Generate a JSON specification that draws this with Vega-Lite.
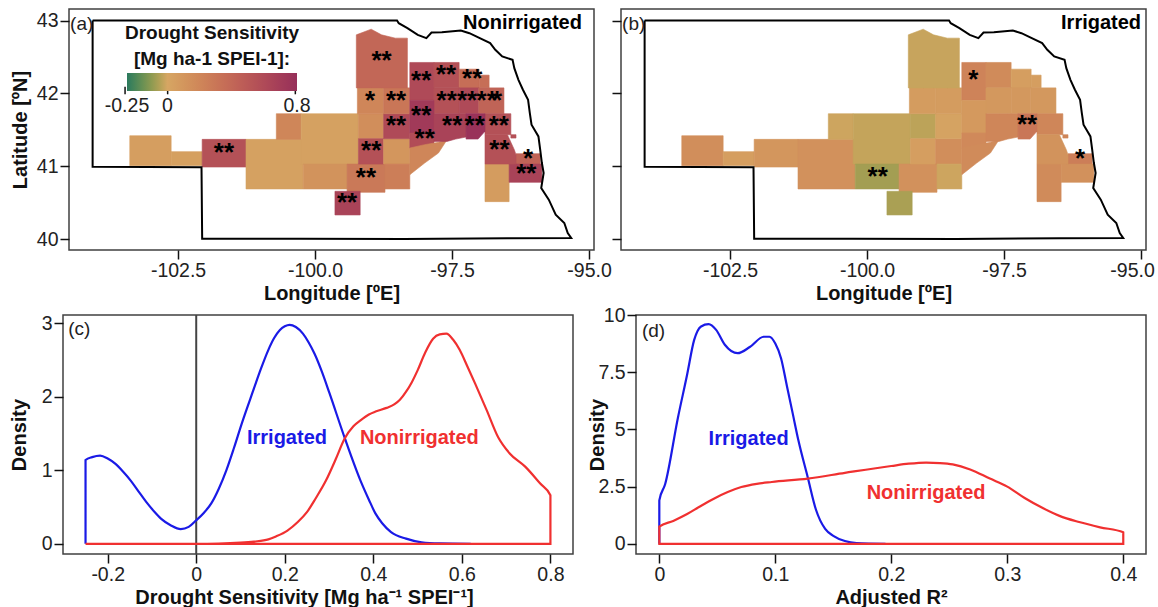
{
"$schema":"https://vega.github.io/schema/vega-lite/v6.json",
"padding":{"left":8,"top":6,"right":0,"bottom":0},
"background":"white",
"config":{"view":{"stroke":"#404040","strokeWidth":1.5},
"font":"Liberation Sans",
"axis":{"grid":false,"domain":false,"tickSize":9,"tickWidth":1.5,"tickColor":"#111","labelFont":"Liberation Sans","labelFontSize":19.5,"labelColor":"#222","labelPadding":2,"labelOverlap":false,"labelFlush":false,"titleFont":"Liberation Sans","titleFontSize":20,"titleFontWeight":"bold","titleColor":"#111","titlePadding":4},
"text":{"font":"Liberation Sans"}},
"datasets":{
"cells":[
{"lon0":-103.381,"lon1":-102.626,"lat0":41.007,"lat1":41.418,"nonirr":0.05,"irr":0.15},
{"lon0":-102.626,"lon1":-102.06,"lat0":41.007,"lat1":41.199,"nonirr":0.04,"irr":0.05},
{"lon0":-102.06,"lon1":-101.26,"lat0":40.988,"lat1":41.368,"nonirr":0.55,"irr":0.1},
{"lon0":-101.26,"lon1":-100.216,"lat0":40.687,"lat1":41.368,"nonirr":0.03,"irr":0.13},
{"lon0":-100.707,"lon1":-100.253,"lat0":41.368,"lat1":41.72,"nonirr":0.2,"irr":-0.012},
{"lon0":-100.253,"lon1":-99.209,"lat0":41.029,"lat1":41.72,"nonirr":0.03,"irr":-0.025},
{"lon0":-100.216,"lon1":-99.416,"lat0":40.687,"lat1":41.029,"nonirr":0.12,"irr":-0.07},
{"lon0":-99.416,"lon1":-98.724,"lat0":40.641,"lat1":41.029,"nonirr":0.28,"irr":0.13},
{"lon0":-99.637,"lon1":-99.177,"lat0":40.33,"lat1":40.655,"nonirr":0.65,"irr":-0.06},
{"lon0":-99.209,"lon1":-98.749,"lat0":41.377,"lat1":41.72,"nonirr":0.15,"irr":-0.035},
{"lon0":-99.209,"lon1":-98.749,"lat0":41.029,"lat1":41.377,"nonirr":0.55,"irr":0.05},
{"lon0":-98.749,"lon1":-98.271,"lat0":41.029,"lat1":41.377,"nonirr":0.1,"irr":0.15},
{"lon0":-98.724,"lon1":-98.271,"lat0":40.687,"lat1":41.029,"nonirr":0.25,"irr":-0.012},
{"lon0":-98.749,"lon1":-98.271,"lat0":41.377,"lat1":41.72,"nonirr":0.6,"irr":0.02},
{"lon0":-99.228,"lon1":-98.749,"lat0":41.72,"lat1":42.075,"nonirr":0.2,"irr":0.06},
{"lon0":-98.749,"lon1":-98.271,"lat0":41.72,"lat1":42.075,"nonirr":0.3,"irr":0.06},
{"lon0":-98.271,"lon1":-97.83,"lat0":41.903,"lat1":42.424,"nonirr":0.6,"irr":0.22},
{"lon0":-97.83,"lon1":-97.371,"lat0":42.075,"lat1":42.424,"nonirr":0.55,"irr":0.17},
{"lon0":-97.371,"lon1":-97.006,"lat0":42.075,"lat1":42.332,"nonirr":0.35,"irr":0.05},
{"lon0":-97.006,"lon1":-96.824,"lat0":42.075,"lat1":42.25,"nonirr":0.35,"irr":0.05},
{"lon0":-97.83,"lon1":-97.371,"lat0":41.72,"lat1":42.075,"nonirr":0.55,"irr":0.09},
{"lon0":-97.371,"lon1":-97.012,"lat0":41.72,"lat1":42.075,"nonirr":0.6,"irr":0.09},
{"lon0":-97.012,"lon1":-96.553,"lat0":41.72,"lat1":42.075,"nonirr":0.42,"irr":0.09},
{"lon0":-98.271,"lon1":-97.83,"lat0":41.455,"lat1":41.903,"nonirr":0.72,"irr":0.08},
{"lon0":-98.271,"lon1":-97.83,"lat0":41.249,"lat1":41.455,"nonirr":0.58,"irr":0.18},
{"lon0":-96.899,"lon1":-96.459,"lat0":40.513,"lat1":41.029,"nonirr":0.06,"irr":0.17},
{"lon0":-96.333,"lon1":-95.892,"lat0":41.029,"lat1":41.171,"nonirr":0.42,"irr":0.25},
{"lon0":-96.459,"lon1":-95.861,"lat0":40.778,"lat1":41.029,"nonirr":0.65,"irr":0.13},
{"lon0":-96.899,"lon1":-96.427,"lat0":41.432,"lat1":41.72,"nonirr":0.55,"irr":0.2},
{"lon0":-96.427,"lon1":-96.333,"lat0":41.386,"lat1":41.432,"nonirr":0.55,"irr":0.2}
],
"shapes":[
{"c":"north","lon":-99.247,"top":42.803,"bot":42.075,"nonirr":0.4,"irr":-0.02},
{"c":"north","lon":-98.976,"top":42.881,"bot":42.075,"nonirr":0.4,"irr":-0.02},
{"c":"north","lon":-98.787,"top":42.803,"bot":42.075,"nonirr":0.4,"irr":-0.02},
{"c":"north","lon":-98.535,"top":42.758,"bot":42.075,"nonirr":0.4,"irr":-0.02},
{"c":"north","lon":-98.315,"top":42.758,"bot":42.075,"nonirr":0.4,"irr":-0.02},
{"c":"river1","lon":-98.271,"top":41.249,"bot":40.883,"nonirr":0.2,"irr":0.17},
{"c":"river1","lon":-98.0,"top":41.295,"bot":41.043,"nonirr":0.2,"irr":0.17},
{"c":"river1","lon":-97.749,"top":41.327,"bot":41.18,"nonirr":0.2,"irr":0.17},
{"c":"river1","lon":-97.591,"top":41.363,"bot":41.363,"nonirr":0.2,"irr":0.17},
{"c":"river2","lon":-97.83,"top":41.72,"bot":41.34,"nonirr":0.65,"irr":0.2},
{"c":"river2","lon":-97.591,"top":41.72,"bot":41.34,"nonirr":0.65,"irr":0.2},
{"c":"river2","lon":-97.434,"top":41.72,"bot":41.372,"nonirr":0.65,"irr":0.2},
{"c":"river2","lon":-97.245,"top":41.72,"bot":41.4,"nonirr":0.65,"irr":0.2},
{"c":"river3","lon":-97.245,"top":41.72,"bot":41.372,"nonirr":0.78,"irr":0.3},
{"c":"river3","lon":-97.025,"top":41.72,"bot":41.372,"nonirr":0.78,"irr":0.3},
{"c":"river3","lon":-96.899,"top":41.72,"bot":41.478,"nonirr":0.78,"irr":0.3},
{"c":"east2","lon":-96.899,"top":41.432,"bot":41.029,"nonirr":0.55,"irr":0.12},
{"c":"east2","lon":-96.49,"top":41.432,"bot":41.029,"nonirr":0.55,"irr":0.12},
{"c":"east2","lon":-96.364,"top":41.226,"bot":41.029,"nonirr":0.55,"irr":0.12},
{"c":"east2","lon":-96.333,"top":41.157,"bot":41.029,"nonirr":0.55,"irr":0.12}
],
"outline":[
{"o":0,"lon":-104.059,"lat":43.0},{"o":1,"lon":-98.504,"lat":43.0},{"o":2,"lon":-98.473,"lat":42.963},{"o":3,"lon":-98.315,"lat":42.895},{"o":4,"lon":-98.126,"lat":42.803},{"o":5,"lon":-97.969,"lat":42.758},{"o":6,"lon":-97.875,"lat":42.835},{"o":7,"lon":-97.686,"lat":42.84},{"o":8,"lon":-97.34,"lat":42.863},{"o":9,"lon":-97.183,"lat":42.826},{"o":10,"lon":-96.994,"lat":42.758},{"o":11,"lon":-96.805,"lat":42.689},{"o":12,"lon":-96.711,"lat":42.598},{"o":13,"lon":-96.585,"lat":42.506},{"o":14,"lon":-96.396,"lat":42.46},{"o":15,"lon":-96.364,"lat":42.346},{"o":16,"lon":-96.289,"lat":42.186},{"o":17,"lon":-96.207,"lat":42.049},{"o":18,"lon":-96.113,"lat":41.911},{"o":19,"lon":-96.081,"lat":41.729},{"o":20,"lon":-96.05,"lat":41.569},{"o":21,"lon":-95.924,"lat":41.409},{"o":22,"lon":-95.892,"lat":41.226},{"o":23,"lon":-95.861,"lat":41.043},{"o":24,"lon":-95.829,"lat":40.906},{"o":25,"lon":-95.873,"lat":40.7},{"o":26,"lon":-95.735,"lat":40.54},{"o":27,"lon":-95.609,"lat":40.335},{"o":28,"lon":-95.452,"lat":40.22},{"o":29,"lon":-95.389,"lat":40.083},{"o":30,"lon":-95.326,"lat":40.014},{"o":31,"lon":-96.49,"lat":40.01},{"o":32,"lon":-98.378,"lat":40.001},{"o":33,"lon":-100.266,"lat":40.005},{"o":34,"lon":-102.06,"lat":40.005},{"o":35,"lon":-102.072,"lat":40.984},{"o":36,"lon":-104.059,"lat":40.993},{"o":37,"lon":-104.059,"lat":43.0}
],
"starsA":[
{"lon":-98.787,"lat":42.515,"t":"**"},{"lon":-98.063,"lat":42.232,"t":"**"},{"lon":-97.61,"lat":42.323,"t":"**"},{"lon":-97.132,"lat":42.264,"t":"**"},{"lon":-98.995,"lat":41.957,"t":"*"},{"lon":-98.523,"lat":41.957,"t":"**"},{"lon":-98.063,"lat":41.752,"t":"**"},{"lon":-97.598,"lat":41.957,"t":"**"},{"lon":-97.227,"lat":41.957,"t":"**"},{"lon":-96.868,"lat":41.957,"t":"**"},{"lon":-96.68,"lat":41.957,"t":"*"},{"lon":-98.523,"lat":41.615,"t":"**"},{"lon":-97.497,"lat":41.615,"t":"**"},{"lon":-97.088,"lat":41.615,"t":"**"},{"lon":-96.648,"lat":41.615,"t":"**"},{"lon":-98.0,"lat":41.445,"t":"**"},{"lon":-98.976,"lat":41.272,"t":"**"},{"lon":-101.663,"lat":41.249,"t":"**"},{"lon":-96.635,"lat":41.285,"t":"**"},{"lon":-96.113,"lat":41.171,"t":"*"},{"lon":-96.144,"lat":40.965,"t":"**"},{"lon":-99.071,"lat":40.906,"t":"**"},{"lon":-99.416,"lat":40.563,"t":"**"}
],
"starsB":[
{"lon":-98.063,"lat":42.25,"t":"*"},{"lon":-97.08,"lat":41.628,"t":"**"},{"lon":-99.806,"lat":40.92,"t":"**"},{"lon":-96.112,"lat":41.171,"t":"*"}
],
"barTicks":[{"lon":-103.467,"a":42.091,"b":41.987},{"lon":-102.69,"a":42.091,"b":41.987},{"lon":-100.36,"a":42.091,"b":41.987}],
"curveC":[
{"s":"Irrigated","o":0,"x":-0.25,"y":0},{"s":"Irrigated","o":1,"x":-0.25,"y":1.14},{"s":"Irrigated","o":2,"x":-0.235,"y":1.18},{"s":"Irrigated","o":3,"x":-0.217,"y":1.2},{"s":"Irrigated","o":4,"x":-0.2,"y":1.16},{"s":"Irrigated","o":5,"x":-0.183,"y":1.09},{"s":"Irrigated","o":6,"x":-0.165,"y":0.98},{"s":"Irrigated","o":7,"x":-0.148,"y":0.86},{"s":"Irrigated","o":8,"x":-0.13,"y":0.71},{"s":"Irrigated","o":9,"x":-0.113,"y":0.57},{"s":"Irrigated","o":10,"x":-0.095,"y":0.44},{"s":"Irrigated","o":11,"x":-0.079,"y":0.34},{"s":"Irrigated","o":12,"x":-0.057,"y":0.25},{"s":"Irrigated","o":13,"x":-0.035,"y":0.2},{"s":"Irrigated","o":14,"x":-0.017,"y":0.23},{"s":"Irrigated","o":15,"x":0,"y":0.32},{"s":"Irrigated","o":16,"x":0.017,"y":0.42},{"s":"Irrigated","o":17,"x":0.034,"y":0.55},{"s":"Irrigated","o":18,"x":0.051,"y":0.75},{"s":"Irrigated","o":19,"x":0.068,"y":1.0},{"s":"Irrigated","o":20,"x":0.085,"y":1.3},{"s":"Irrigated","o":21,"x":0.103,"y":1.64},{"s":"Irrigated","o":22,"x":0.129,"y":2.09},{"s":"Irrigated","o":23,"x":0.146,"y":2.38},{"s":"Irrigated","o":24,"x":0.163,"y":2.64},{"s":"Irrigated","o":25,"x":0.176,"y":2.8},{"s":"Irrigated","o":26,"x":0.189,"y":2.91},{"s":"Irrigated","o":27,"x":0.2,"y":2.96},{"s":"Irrigated","o":28,"x":0.211,"y":2.98},{"s":"Irrigated","o":29,"x":0.225,"y":2.95},{"s":"Irrigated","o":30,"x":0.241,"y":2.86},{"s":"Irrigated","o":31,"x":0.254,"y":2.74},{"s":"Irrigated","o":32,"x":0.267,"y":2.59},{"s":"Irrigated","o":33,"x":0.284,"y":2.34},{"s":"Irrigated","o":34,"x":0.301,"y":2.05},{"s":"Irrigated","o":35,"x":0.336,"y":1.43},{"s":"Irrigated","o":36,"x":0.371,"y":0.86},{"s":"Irrigated","o":37,"x":0.39,"y":0.6},{"s":"Irrigated","o":38,"x":0.405,"y":0.41},{"s":"Irrigated","o":39,"x":0.42,"y":0.28},{"s":"Irrigated","o":40,"x":0.44,"y":0.16},{"s":"Irrigated","o":41,"x":0.474,"y":0.07},{"s":"Irrigated","o":42,"x":0.509,"y":0.02},{"s":"Irrigated","o":43,"x":0.55,"y":0.005},{"s":"Irrigated","o":44,"x":0.62,"y":0},
{"s":"Nonirrigated","o":0,"x":-0.25,"y":0},{"s":"Nonirrigated","o":1,"x":0,"y":0},{"s":"Nonirrigated","o":2,"x":0.05,"y":0.003},{"s":"Nonirrigated","o":3,"x":0.1,"y":0.015},{"s":"Nonirrigated","o":4,"x":0.13,"y":0.03},{"s":"Nonirrigated","o":5,"x":0.163,"y":0.06},{"s":"Nonirrigated","o":6,"x":0.18,"y":0.1},{"s":"Nonirrigated","o":7,"x":0.206,"y":0.18},{"s":"Nonirrigated","o":8,"x":0.23,"y":0.3},{"s":"Nonirrigated","o":9,"x":0.25,"y":0.43},{"s":"Nonirrigated","o":10,"x":0.27,"y":0.62},{"s":"Nonirrigated","o":11,"x":0.293,"y":0.86},{"s":"Nonirrigated","o":12,"x":0.315,"y":1.15},{"s":"Nonirrigated","o":13,"x":0.335,"y":1.43},{"s":"Nonirrigated","o":14,"x":0.355,"y":1.6},{"s":"Nonirrigated","o":15,"x":0.371,"y":1.68},{"s":"Nonirrigated","o":16,"x":0.39,"y":1.76},{"s":"Nonirrigated","o":17,"x":0.405,"y":1.8},{"s":"Nonirrigated","o":18,"x":0.43,"y":1.85},{"s":"Nonirrigated","o":19,"x":0.448,"y":1.9},{"s":"Nonirrigated","o":20,"x":0.46,"y":1.96},{"s":"Nonirrigated","o":21,"x":0.474,"y":2.07},{"s":"Nonirrigated","o":22,"x":0.487,"y":2.2},{"s":"Nonirrigated","o":23,"x":0.5,"y":2.36},{"s":"Nonirrigated","o":24,"x":0.517,"y":2.6},{"s":"Nonirrigated","o":25,"x":0.535,"y":2.79},{"s":"Nonirrigated","o":26,"x":0.55,"y":2.85},{"s":"Nonirrigated","o":27,"x":0.565,"y":2.86},{"s":"Nonirrigated","o":28,"x":0.58,"y":2.78},{"s":"Nonirrigated","o":29,"x":0.595,"y":2.64},{"s":"Nonirrigated","o":30,"x":0.612,"y":2.42},{"s":"Nonirrigated","o":31,"x":0.63,"y":2.18},{"s":"Nonirrigated","o":32,"x":0.656,"y":1.82},{"s":"Nonirrigated","o":33,"x":0.682,"y":1.45},{"s":"Nonirrigated","o":34,"x":0.708,"y":1.23},{"s":"Nonirrigated","o":35,"x":0.743,"y":1.05},{"s":"Nonirrigated","o":36,"x":0.777,"y":0.82},{"s":"Nonirrigated","o":37,"x":0.8,"y":0.66},{"s":"Nonirrigated","o":38,"x":0.8,"y":0},{"s":"Nonirrigated","o":39,"x":-0.25,"y":0}
],
"curveD":[
{"s":"Irrigated","o":0,"x":0,"y":0},{"s":"Irrigated","o":1,"x":0,"y":1.9},{"s":"Irrigated","o":2,"x":0.005,"y":2.6},{"s":"Irrigated","o":3,"x":0.016,"y":5.5},{"s":"Irrigated","o":4,"x":0.024,"y":7.4},{"s":"Irrigated","o":5,"x":0.03,"y":8.9},{"s":"Irrigated","o":6,"x":0.036,"y":9.5},{"s":"Irrigated","o":7,"x":0.0425,"y":9.6},{"s":"Irrigated","o":8,"x":0.049,"y":9.35},{"s":"Irrigated","o":9,"x":0.0565,"y":8.7},{"s":"Irrigated","o":10,"x":0.0675,"y":8.33},{"s":"Irrigated","o":11,"x":0.078,"y":8.6},{"s":"Irrigated","o":12,"x":0.09,"y":9.05},{"s":"Irrigated","o":13,"x":0.095,"y":9.05},{"s":"Irrigated","o":14,"x":0.1,"y":8.75},{"s":"Irrigated","o":15,"x":0.105,"y":8.1},{"s":"Irrigated","o":16,"x":0.11,"y":6.9},{"s":"Irrigated","o":17,"x":0.115,"y":5.7},{"s":"Irrigated","o":18,"x":0.12,"y":4.5},{"s":"Irrigated","o":19,"x":0.128,"y":2.9},{"s":"Irrigated","o":20,"x":0.135,"y":1.5},{"s":"Irrigated","o":21,"x":0.143,"y":0.65},{"s":"Irrigated","o":22,"x":0.15,"y":0.35},{"s":"Irrigated","o":23,"x":0.16,"y":0.12},{"s":"Irrigated","o":24,"x":0.17,"y":0.03},{"s":"Irrigated","o":25,"x":0.195,"y":0},
{"s":"Nonirrigated","o":0,"x":0,"y":0},{"s":"Nonirrigated","o":1,"x":0,"y":0.75},{"s":"Nonirrigated","o":2,"x":0.012,"y":1.0},{"s":"Nonirrigated","o":3,"x":0.024,"y":1.3},{"s":"Nonirrigated","o":4,"x":0.035,"y":1.63},{"s":"Nonirrigated","o":5,"x":0.047,"y":1.97},{"s":"Nonirrigated","o":6,"x":0.059,"y":2.26},{"s":"Nonirrigated","o":7,"x":0.0707,"y":2.48},{"s":"Nonirrigated","o":8,"x":0.084,"y":2.62},{"s":"Nonirrigated","o":9,"x":0.097,"y":2.7},{"s":"Nonirrigated","o":10,"x":0.128,"y":2.85},{"s":"Nonirrigated","o":11,"x":0.16,"y":3.1},{"s":"Nonirrigated","o":12,"x":0.2,"y":3.4},{"s":"Nonirrigated","o":13,"x":0.215,"y":3.5},{"s":"Nonirrigated","o":14,"x":0.23,"y":3.55},{"s":"Nonirrigated","o":15,"x":0.242,"y":3.53},{"s":"Nonirrigated","o":16,"x":0.253,"y":3.47},{"s":"Nonirrigated","o":17,"x":0.268,"y":3.25},{"s":"Nonirrigated","o":18,"x":0.285,"y":2.85},{"s":"Nonirrigated","o":19,"x":0.3,"y":2.5},{"s":"Nonirrigated","o":20,"x":0.315,"y":2.0},{"s":"Nonirrigated","o":21,"x":0.331,"y":1.55},{"s":"Nonirrigated","o":22,"x":0.345,"y":1.22},{"s":"Nonirrigated","o":23,"x":0.362,"y":0.95},{"s":"Nonirrigated","o":24,"x":0.38,"y":0.72},{"s":"Nonirrigated","o":25,"x":0.4,"y":0.5},{"s":"Nonirrigated","o":26,"x":0.4,"y":0},{"s":"Nonirrigated","o":27,"x":0,"y":0},{"s":"Nonirrigated","o":28,"x":0,"y":0.75}
]
},
"resolve":{"scale":{"color":"independent"}},
"spacing":-1,
"bounds":"full",
"vconcat":[
{"hconcat":[
{"hconcat":[
{"width":1,"height":1,"view":{"stroke":null},"data":{"values":[{"a":0}]},"mark":{"type":"point","opacity":0},"encoding":{}},
{"width":525,"height":241,
"layer":[
{"data":{"name":"cells"},"mark":{"type":"rect","strokeWidth":0.6},"encoding":{
"x":{"field":"lon0","type":"quantitative","scale":{"domain":[-104.49,-94.91],"nice":false,"zero":false},"axis":{"values":[-102.5,-100,-97.5,-95],"labelExpr":"replace(format(datum.value,'.1f'),'\u2212','-')","title":"Longitude [ºE]"}},
"x2":{"field":"lon1"},
"y":{"field":"lat0","type":"quantitative","scale":{"domain":[39.849,43.158],"nice":false,"zero":false},"axis":{"values":[40,41,42,43],"labelExpr":"''+datum.value","title":"Latitude [ºN]","titlePadding":6}},
"y2":{"field":"lat1"},
"stroke":{"field":"nonirr","type":"quantitative","scale":{"domain":[-0.25,0,0.8],"range":["#2b7a5e","#d6a663","#96305a"]},"legend":null},
"color":{"field":"nonirr","type":"quantitative","scale":{"domain":[-0.25,0,0.8],"range":["#2b7a5e","#d6a663","#96305a"]},
"legend":{"orient":"none","legendX":56,"legendY":15,"direction":"horizontal","title":["Drought Sensitivity","[Mg ha-1 SPEI-1]:"],"titleFont":"Liberation Sans","titleFontSize":19,"titleFontWeight":"bold","titleColor":"#111","titleAnchor":"middle","titleAlign":"center","titleLineHeight":26,"titleLimit":300,"titlePadding":4,"gradientLength":170,"gradientThickness":18,"gradientStrokeWidth":0,"values":[-0.25,0,0.8],"labelExpr":"''+datum.value","labelFont":"Liberation Sans","labelFontSize":19.5,"labelColor":"#222","labelOverlap":false,"labelOffset":6,"encoding":{"labels":{"align":{"value":"center"}}}}}}},
{"data":{"name":"shapes"},"mark":{"type":"area","strokeWidth":0.6},"encoding":{
"x":{"field":"lon","type":"quantitative"},
"y":{"field":"top","type":"quantitative"},
"y2":{"field":"bot"},
"detail":{"field":"c"},
"stroke":{"field":"nonirr","type":"quantitative","legend":null},
"color":{"field":"nonirr","type":"quantitative","legend":null}}},
{"data":{"name":"outline"},"mark":{"type":"line","color":"#000","strokeWidth":2},"encoding":{
"x":{"field":"lon","type":"quantitative"},"y":{"field":"lat","type":"quantitative"},"order":{"field":"o","type":"ordinal"}}},
{"data":{"name":"starsA"},"mark":{"type":"text","fontSize":26,"fontWeight":"bold","color":"#000","dy":5},"encoding":{
"x":{"field":"lon","type":"quantitative"},"y":{"field":"lat","type":"quantitative"},"text":{"field":"t"}}},
{"data":{"values":[{"t":"(a)","lon":-104.47,"lat":42.955}]},"mark":{"type":"text","fontSize":19,"align":"left","color":"#222"},"encoding":{"x":{"field":"lon","type":"quantitative"},"y":{"field":"lat","type":"quantitative"},"text":{"field":"t"}}},
{"data":{"values":[{"t":"Nonirrigated","lon":-95.13,"lat":42.97}]},"mark":{"type":"text","fontSize":20,"fontWeight":"bold","align":"right","color":"#000"},"encoding":{"x":{"field":"lon","type":"quantitative"},"y":{"field":"lat","type":"quantitative"},"text":{"field":"t"}}},
{"data":{"name":"barTicks"},"mark":{"type":"rule","color":"#111","strokeWidth":1.5},"encoding":{"x":{"field":"lon","type":"quantitative"},"y":{"field":"a","type":"quantitative"},"y2":{"field":"b"}}}
]}
],"spacing":5,"bounds":"flush","resolve":{"scale":{"color":"independent"}}},
{"width":525,"height":241,
"layer":[
{"data":{"name":"cells"},"mark":{"type":"rect","strokeWidth":0.6},"encoding":{
"x":{"field":"lon0","type":"quantitative","scale":{"domain":[-104.49,-94.91],"nice":false,"zero":false},"axis":{"values":[-102.5,-100,-97.5,-95],"labelExpr":"replace(format(datum.value,'.1f'),'\u2212','-')","title":"Longitude [ºE]","encoding":{"labels":{"dx":{"value":{"expr":"datum.value==-95?-9:0"}}}}}},
"x2":{"field":"lon1"},
"y":{"field":"lat0","type":"quantitative","scale":{"domain":[39.849,43.158],"nice":false,"zero":false},"axis":{"values":[40,41,42,43],"labels":false,"title":null}},
"y2":{"field":"lat1"},
"stroke":{"field":"irr","type":"quantitative","scale":{"domain":[-0.25,0,0.8],"range":["#2b7a5e","#d6a663","#96305a"]},"legend":null},
"color":{"field":"irr","type":"quantitative","scale":{"domain":[-0.25,0,0.8],"range":["#2b7a5e","#d6a663","#96305a"]},"legend":null}}},
{"data":{"name":"shapes"},"mark":{"type":"area","strokeWidth":0.6},"encoding":{
"x":{"field":"lon","type":"quantitative"},
"y":{"field":"top","type":"quantitative"},
"y2":{"field":"bot"},
"detail":{"field":"c"},
"stroke":{"field":"irr","type":"quantitative","legend":null},
"color":{"field":"irr","type":"quantitative","legend":null}}},
{"data":{"name":"outline"},"mark":{"type":"line","color":"#000","strokeWidth":2},"encoding":{
"x":{"field":"lon","type":"quantitative"},"y":{"field":"lat","type":"quantitative"},"order":{"field":"o","type":"ordinal"}}},
{"data":{"name":"starsB"},"mark":{"type":"text","fontSize":26,"fontWeight":"bold","color":"#000","dy":5},"encoding":{
"x":{"field":"lon","type":"quantitative"},"y":{"field":"lat","type":"quantitative"},"text":{"field":"t"}}},
{"data":{"values":[{"t":"(b)","lon":-104.47,"lat":42.955}]},"mark":{"type":"text","fontSize":19,"align":"left","color":"#222"},"encoding":{"x":{"field":"lon","type":"quantitative"},"y":{"field":"lat","type":"quantitative"},"text":{"field":"t"}}},
{"data":{"values":[{"t":"Irrigated","lon":-95.0,"lat":42.97}]},"mark":{"type":"text","fontSize":20,"fontWeight":"bold","align":"right","color":"#000"},"encoding":{"x":{"field":"lon","type":"quantitative"},"y":{"field":"lat","type":"quantitative"},"text":{"field":"t"}}}
]}
],"spacing":-3,"bounds":"full","resolve":{"scale":{"color":"independent"}}},
{"hconcat":[
{"width":510,"height":239,
"layer":[
{"data":{"values":[{"v":0}]},"mark":{"type":"rule","color":"#444","strokeWidth":2},"encoding":{"x":{"field":"v","type":"quantitative","scale":{"domain":[-0.3009,0.851],"nice":false,"zero":false},"axis":{"values":[-0.2,0,0.2,0.4,0.6,0.8],"labelExpr":"''+datum.value","title":"Drought Sensitivity [Mg ha⁻¹ SPEI⁻¹]","titleX":241}}}},
{"data":{"name":"curveC"},"mark":{"type":"line","strokeWidth":2.2,"interpolate":"monotone"},"encoding":{
"x":{"field":"x","type":"quantitative"},
"y":{"field":"y","type":"quantitative","scale":{"domain":[-0.139,3.114],"nice":false,"zero":false},"axis":{"values":[0,1,2,3],"labelExpr":"''+datum.value","title":"Density","titlePadding":12}},
"color":{"field":"s","type":"nominal","scale":{"domain":["Irrigated","Nonirrigated"],"range":["#1a1ae6","#f03030"]},"legend":null},
"order":{"field":"o","type":"quantitative"}}},
{"data":{"values":[{"t":"Irrigated","x":0.205,"y":1.44,"s":"Irrigated"},{"t":"Nonirrigated","x":0.504,"y":1.44,"s":"Nonirrigated"}]},"mark":{"type":"text","fontSize":20,"fontWeight":"bold"},"encoding":{"x":{"field":"x","type":"quantitative"},"y":{"field":"y","type":"quantitative"},"color":{"field":"s","type":"nominal","legend":null},"text":{"field":"t"}}},
{"data":{"values":[{"t":"(c)","x":-0.289,"y":2.92}]},"mark":{"type":"text","fontSize":19,"align":"left","color":"#222"},"encoding":{"x":{"field":"x","type":"quantitative"},"y":{"field":"y","type":"quantitative"},"text":{"field":"t"}}}
]},
{"width":510,"height":239,
"layer":[
{"data":{"name":"curveD"},"mark":{"type":"line","strokeWidth":2.2,"interpolate":"monotone"},"encoding":{
"x":{"field":"x","type":"quantitative","scale":{"domain":[-0.0201,0.4196],"nice":false,"zero":false},"axis":{"values":[0,0.1,0.2,0.3,0.4],"labelExpr":"''+datum.value","title":"Adjusted R²"}},
"y":{"field":"y","type":"quantitative","scale":{"domain":[-0.446,10],"nice":false,"zero":false},"axis":{"values":[0,2.5,5,7.5,10],"labelExpr":"''+datum.value","title":"Density","titlePadding":-10}},
"color":{"field":"s","type":"nominal","scale":{"domain":["Irrigated","Nonirrigated"],"range":["#1a1ae6","#f03030"]},"legend":null},
"order":{"field":"o","type":"quantitative"}}},
{"data":{"values":[{"t":"Irrigated","x":0.077,"y":4.58,"s":"Irrigated"},{"t":"Nonirrigated","x":0.23,"y":2.23,"s":"Nonirrigated"}]},"mark":{"type":"text","fontSize":20,"fontWeight":"bold"},"encoding":{"x":{"field":"x","type":"quantitative"},"y":{"field":"y","type":"quantitative"},"color":{"field":"s","type":"nominal","legend":null},"text":{"field":"t"}}},
{"data":{"values":[{"t":"(d)","x":-0.015,"y":9.3}]},"mark":{"type":"text","fontSize":19,"align":"left","color":"#222"},"encoding":{"x":{"field":"x","type":"quantitative"},"y":{"field":"y","type":"quantitative"},"text":{"field":"t"}}}
]}
],"spacing":63,"bounds":"flush"}
]
}
